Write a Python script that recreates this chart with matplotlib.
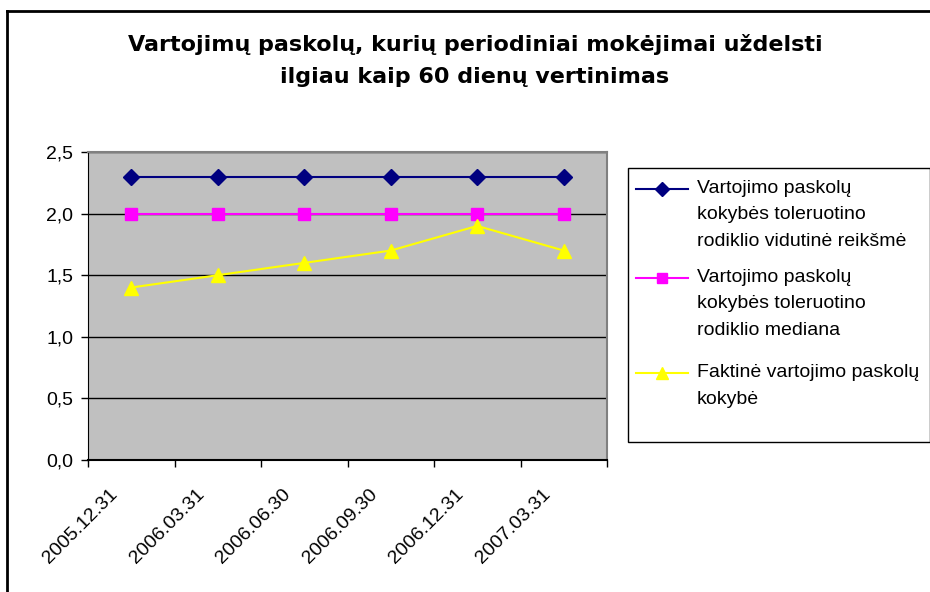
import matplotlib
import matplotlib.pyplot as plt
import matplotlib.transforms as mtransforms
from matplotlib.lines import Line2D
from matplotlib.patches import Rectangle

matplotlib.use('Agg')

plt.rcParams['font.family'] = ['Liberation Sans', 'DejaVu Sans']

dates = ['2005.12.31', '2006.03.31', '2006.06.30', '2006.09.30', '2006.12.31', '2007.03.31']
vidurkis = [2.3, 2.3, 2.3, 2.3, 2.3, 2.3]
mediana = [2.0, 2.0, 2.0, 2.0, 2.0, 2.0]
faktine = [1.4, 1.5, 1.6, 1.7, 1.9, 1.7]
yticks = [0.0, 0.5, 1.0, 1.5, 2.0, 2.5]
labels = ['Vartojimo paskolų\nkokybės toleruotino\nrodiklio vidutinė reikšmė',
          'Vartojimo paskolų\nkokybės toleruotino\nrodiklio mediana',
          'Faktinė vartojimo paskolų\nkokybė']
title_lines = ['Vartojimų paskolų, kurių periodiniai mokėjimai uždelsti',
               'ilgiau kaip 60 dienų vertinimas']

W, H = 930, 592
fig = plt.figure(figsize=(W / 100, H / 100), dpi=100)

def fx(px):
    return px / W

def fy(py):
    return 1 - py / H

# outer chart frame (only top and left visible)
fig.add_artist(Line2D([fx(7), fx(7)], [0, fy(11)], transform=fig.transFigure, color='black', lw=2))
fig.add_artist(Line2D([fx(7), 1], [fy(11), fy(11)], transform=fig.transFigure, color='black', lw=2))

ax = fig.add_axes([fx(88), fy(460), 519 / W, 308 / H])
ax.set_facecolor('#C0C0C0')

styles = [('#000080', 'D', 8), ('#FF00FF', 's', 8), ('#FFFF00', '^', 9.5)]
x = list(range(len(dates)))
for vals, (col, mk, ms) in zip([vidurkis, mediana, faktine], styles):
    ax.plot(x, vals, color=col, lw=1.5, marker=mk, ms=ms, markeredgecolor=col)

ax.set_xlim(-0.5, len(dates) - 0.5)
ax.set_ylim(0, 2.5)
ax.set_yticks(yticks)
ax.set_yticklabels([f'{v:.1f}'.replace('.', ',') for v in yticks])
ax.yaxis.grid(True, color='black', lw=1)
ax.set_axisbelow(True)

ax.set_xticks([i - 0.5 for i in range(len(dates) + 1)])
ax.set_xticklabels([])
ax.set_xticks(x, minor=True)
ax.set_xticklabels(dates, minor=True, rotation=45, ha='right', va='center',
                   rotation_mode='anchor')
ax.tick_params(axis='x', which='minor', length=0, pad=0, labelsize=14)
ax.tick_params(axis='x', which='major', length=5, width=1, direction='out')
ax.tick_params(axis='y', length=5, width=1, direction='out', labelsize=14, pad=5.5)
offset = mtransforms.ScaledTranslation(-16 / 100, -32 / 100, fig.dpi_scale_trans)
for lbl in ax.get_xticklabels(minor=True):
    lbl.set_transform(lbl.get_transform() + offset)

for side in ['top', 'right']:
    ax.spines[side].set_color('#808080')
    ax.spines[side].set_linewidth(1.5)
ax.spines['left'].set_color('black')
ax.spines['bottom'].set_color('black')
ax.spines['bottom'].set_linewidth(1.5)

# title, two lines
for line, base in zip(title_lines, [51, 83]):
    fig.text(fx(475), fy(base), line, ha='center', va='baseline', fontsize=16,
             fontweight='bold', family='DejaVu Sans')

# legend drawn by hand so the handle sits on the first text line
fig.add_artist(Rectangle((fx(628), fy(442)), (W - 628) / W, 274 / H,
                         transform=fig.transFigure, fill=False, edgecolor='black', lw=1))
entry_base = [193, 282, 377]
for lab, (col, mk, ms), base in zip(labels, styles, entry_base):
    fig.add_artist(Line2D([fx(636), fx(688)], [fy(base - 4), fy(base - 4)],
                          transform=fig.transFigure, color=col, lw=1.5))
    fig.add_artist(Line2D([fx(662)], [fy(base - 4)], transform=fig.transFigure,
                          color=col, marker=mk, ms=ms - 1, markeredgecolor=col))
    for i, part in enumerate(lab.split('\n')):
        fig.text(fx(697), fy(base + i * 26.5), part, ha='left', va='baseline', fontsize=14)

fig.savefig('out.png', dpi=100)
